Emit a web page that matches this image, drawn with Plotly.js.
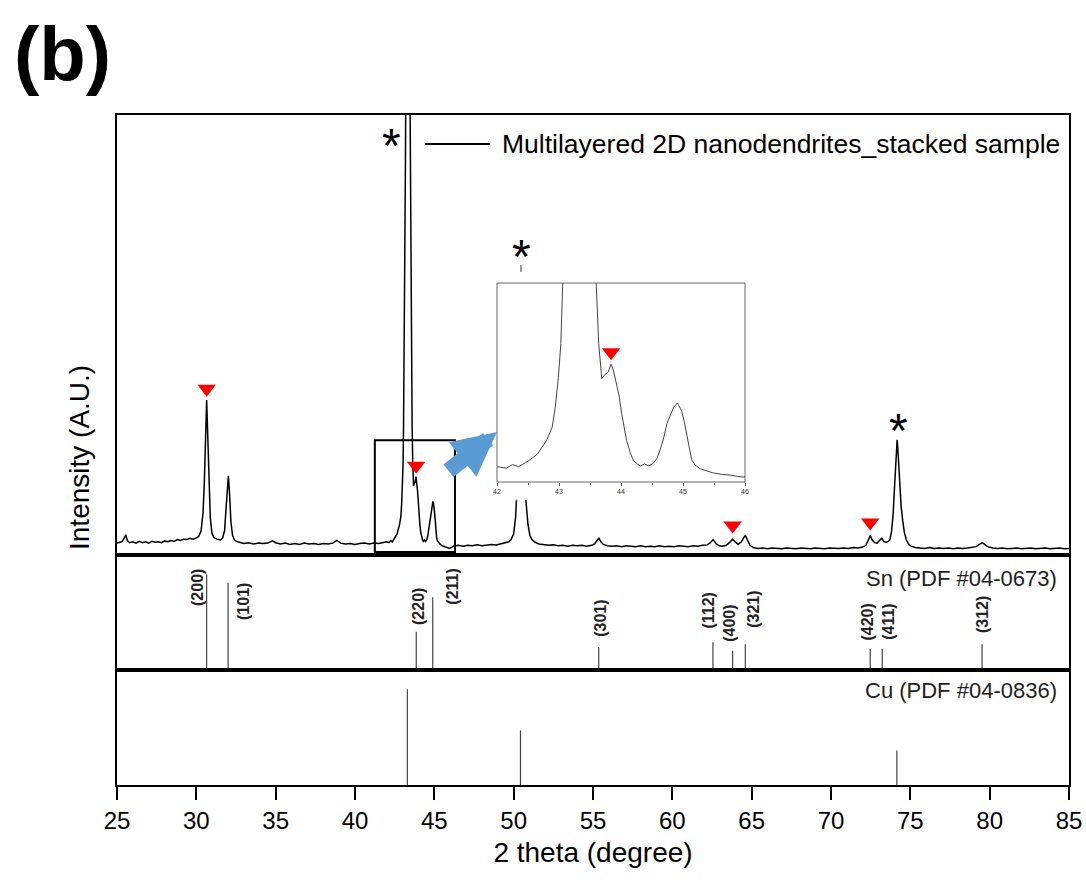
<!DOCTYPE html>
<html>
<head>
<meta charset="utf-8">
<script src="https://cdn.plot.ly/plotly-3.0.1.min.js"></script>
<style>html,body{margin:0;padding:0;background:#fff;}#chart{width:1086px;height:882px;}</style>
</head>
<body>
<div id="chart"></div>
<script>
// ---------- Data ----------
const seriesName = "Multilayered 2D nanodendrites_stacked sample";
const twoTheta = [25.0,25.15,25.3,25.45,25.55,25.65,25.8,26.0,26.2,26.4,26.6,26.8,27.0,27.2,27.4,27.6,27.8,28.0,28.2,28.4,28.6,28.8,29.0,29.2,29.4,29.6,29.8,30.0,30.15,30.3,30.42,30.5,30.57,30.65,30.72,30.8,30.88,30.98,31.1,31.3,31.5,31.65,31.78,31.88,31.96,32.02,32.1,32.18,32.28,32.4,32.6,32.8,33.0,33.3,33.6,33.9,34.2,34.5,34.8,35.0,35.3,35.6,35.9,36.2,36.5,36.8,37.1,37.4,37.7,38.0,38.3,38.6,38.85,39.1,39.4,39.7,40.0,40.3,40.6,40.9,41.2,41.5,41.8,42.0,42.15,42.25,42.35,42.5,42.65,42.8,42.89,42.94,42.99,43.03,43.06,43.12,43.18,43.22,43.27,43.33,43.39,43.44,43.48,43.54,43.6,43.64,43.69,43.74,43.79,43.84,43.88,43.93,43.97,44.01,44.05,44.09,44.15,44.2,44.26,44.31,44.38,44.45,44.52,44.58,44.63,44.69,44.74,44.8,44.85,44.91,44.95,44.98,45.02,45.06,45.1,45.14,45.2,45.28,45.38,45.49,45.62,45.76,45.88,45.97,46.2,46.5,46.8,47.1,47.4,47.7,48.0,48.3,48.6,48.9,49.2,49.5,49.7,49.85,50.0,50.12,50.22,50.32,50.45,50.57,50.67,50.78,50.9,51.02,51.15,51.35,51.6,51.9,52.2,52.5,52.8,53.1,53.4,53.7,54.0,54.3,54.6,54.9,55.1,55.25,55.37,55.5,55.65,55.9,56.2,56.5,56.8,57.1,57.4,57.7,58.0,58.3,58.6,58.9,59.2,59.5,59.8,60.1,60.4,60.7,61.0,61.3,61.6,61.9,62.2,62.4,62.57,62.75,62.95,63.15,63.4,63.6,63.8,63.95,64.15,64.35,64.5,64.6,64.72,64.9,65.1,65.4,65.7,66.0,66.3,66.6,66.9,67.2,67.5,67.8,68.1,68.4,68.7,69.0,69.3,69.6,69.9,70.2,70.5,70.8,71.1,71.4,71.7,72.0,72.2,72.35,72.47,72.6,72.75,72.9,73.05,73.2,73.35,73.5,73.62,73.72,73.82,73.92,74.02,74.1,74.17,74.24,74.32,74.42,74.52,74.62,74.75,74.9,75.05,75.3,75.6,75.9,76.2,76.5,76.8,77.1,77.4,77.7,78.0,78.3,78.6,78.9,79.15,79.35,79.55,79.75,79.95,80.2,80.5,80.8,81.1,81.4,81.7,82.0,82.3,82.6,82.9,83.2,83.5,83.8,84.1,84.4,84.7,85.0];
const intensity = [27,29,30,38,46,33,28,30,27,31,28,30,27,31,29,30,28,32,30,33,31,35,33,36,35,38,36,39,42,55,95,160,260,352,270,160,85,50,40,36,34,38,55,110,165,180,135,75,45,34,30,28,26,28,25,27,26,27,32,28,25,27,24,26,24,27,25,26,24,26,25,27,33,27,25,26,24,26,27,25,27,26,28,30,28,33,30,38,48,68,87,116,159,208,295,520,900,1200,1650,1900,1650,1200,900,520,295,208,157,163,166,178,168,150,132,107,86,68,50,39,34,31,34,31,35,42,54,72,92,106,116,122,116,110,95,78,58,40,32,27,24,21,19,18,16,15,20,22,20,22,21,23,21,22,24,23,25,27,30,36,48,85,160,290,400,320,210,120,70,45,35,29,25,23,22,23,21,22,20,22,21,22,20,22,25,33,38,30,24,21,20,21,19,21,20,19,21,19,20,19,21,19,20,19,21,20,19,21,20,22,23,28,35,26,21,20,22,28,36,30,24,30,40,45,35,22,17,15,16,14,16,15,14,16,15,14,16,15,14,16,15,14,16,15,15,16,15,17,16,18,22,34,44,34,28,27,33,38,30,29,31,36,55,95,165,230,262,225,165,110,78,52,34,24,20,17,16,15,17,15,16,15,16,14,16,15,16,17,19,24,28,22,18,16,15,16,14,15,16,14,15,16,14,15,16,14,15,16,14,15];

// marked Sn peaks (red triangles) in the main pattern and in the inset
const snMarkX = [30.65, 43.85, 63.8, 72.47];
const snMarkY = [378, 203, 67, 74];
const insetMarkX = [43.84];
const insetMarkY = [195];

// Sn reference (PDF #04-0673)
const snPos = [30.65, 32.0, 43.86, 44.9, 55.36, 62.56, 63.8, 64.6, 72.47, 73.23, 79.52];
const snRel = [100, 91, 40, 76, 24, 29, 20, 27, 22, 22, 27];
const snHkl = ["(200)","(101)","(220)","(211)","(301)","(112)","(400)","(321)","(420)","(411)","(312)"];
// Cu reference (PDF #04-0836)
const cuPos = [43.3, 50.43, 74.15];
const cuRel = [100, 57, 36];

const xTicks = [25,30,35,40,45,50,55,60,65,70,75,80,85];
const insetTicks = [42,43,44,45,46];

// ---------- helpers ----------
const L = 117, R = 1069, T = 115, B = 785;
const px = v => (v - L) / (R - L);
const py = v => (B - v) / (B - T);
function sticks(xs, hs) {
  const X = [], Y = [];
  xs.forEach((x, i) => { X.push(x, x, null); Y.push(0, hs[i], null); });
  return {X, Y};
}
const sn = sticks(snPos, snRel);
const cu = sticks(cuPos, cuRel);

const FONT = 'Arial, "Liberation Sans", sans-serif';

const traces = [
  {x: twoTheta, y: intensity, type: 'scatter', mode: 'lines', name: seriesName,
   line: {color: '#000', width: 1.5}, xaxis: 'x', yaxis: 'y', showlegend: false, hoverinfo: 'skip'},
  {x: snMarkX, y: snMarkY, type: 'scatter', mode: 'markers', xaxis: 'x', yaxis: 'y',
   marker: {symbol: 'triangle-down', size: 16, color: '#ff0000'}, showlegend: false, hoverinfo: 'skip'},
  {x: sn.X, y: sn.Y, type: 'scatter', mode: 'lines', xaxis: 'x2', yaxis: 'y2',
   line: {color: '#444', width: 1.2}, showlegend: false, hoverinfo: 'skip'},
  {x: cu.X, y: cu.Y, type: 'scatter', mode: 'lines', xaxis: 'x3', yaxis: 'y3',
   line: {color: '#444', width: 1.2}, showlegend: false, hoverinfo: 'skip'},
  {x: twoTheta, y: intensity, type: 'scatter', mode: 'lines', xaxis: 'x4', yaxis: 'y4',
   line: {color: '#444', width: 1}, showlegend: false, hoverinfo: 'skip'},
  {x: insetMarkX, y: insetMarkY, type: 'scatter', mode: 'markers', xaxis: 'x4', yaxis: 'y4',
   marker: {symbol: 'triangle-down', size: 16, color: '#ff0000'}, showlegend: false, hoverinfo: 'skip'}
];

const frameAxis = {showline: true, mirror: true, linecolor: '#000', linewidth: 2,
  showgrid: false, zeroline: false, ticks: '', showticklabels: false, fixedrange: true};

const snLabelX = [30.04, 32.94, 43.97, 46.09, 55.43, 62.22, 63.56, 65.07, 72.24, 73.58, 79.52];
const snLabelYpx = [587, 601, 606, 587, 618, 611, 623, 609, 622, 622, 615];

function ann(o) { return Object.assign({xanchor: 'center', yanchor: 'middle', showarrow: false,
  xref: 'paper', yref: 'paper'}, o); }

const annotations = [
  ann({text: '<b>(b)</b>', x: px(62), y: py(53), font: {family: FONT, size: 76, color: '#000'}}),
  ann({text: 'Intensity (A.U.)', x: px(79), y: py(458), textangle: -90,
       font: {family: FONT, size: 28, color: '#000'}}),
  ann({text: seriesName, x: px(500), y: py(144), xanchor: 'left',
       font: {family: FONT, size: 26.5, color: '#000'}}),
  ann({text: 'Sn (PDF #04-0673)', x: px(1059), y: py(578), xanchor: 'right',
       font: {family: FONT, size: 22, color: '#222'}}),
  ann({text: 'Cu (PDF #04-0836)', x: px(1059), y: py(690), xanchor: 'right',
       font: {family: FONT, size: 22, color: '#222'}}),
  ann({text: '*', x: px(391), y: py(145), font: {family: FONT, size: 48, color: '#000'}}),
  ann({text: '*', x: px(521), y: py(256), font: {family: FONT, size: 48, color: '#000'}}),
  ann({text: '*', x: px(898), y: py(430), font: {family: FONT, size: 48, color: '#000'}}),
  {text: '', xref: 'paper', yref: 'paper', x: px(497), y: py(432), ax: -50, ay: 40,
   showarrow: true, arrowhead: 2, arrowsize: 0.55, arrowwidth: 16, arrowcolor: '#5b9bd5', standoff: 0}
];
snHkl.forEach((t, i) => {
  annotations.push(ann({text: '<b>' + t + '</b>', xref: 'x2', x: snLabelX[i], y: py(snLabelYpx[i]),
    textangle: -90, font: {family: FONT, size: 16, color: '#222'}}));
});

const shapes = [
  // zoom box around 42-46 deg in main pattern
  {type: 'rect', xref: 'x', yref: 'y', x0: 41.25, x1: 46.3, y0: 7, y1: 261,
   line: {color: '#000', width: 2}, fillcolor: 'rgba(0,0,0,0)', layer: 'above'},
  // inset frame
  {type: 'rect', xref: 'paper', yref: 'paper', x0: px(497), x1: px(745), y0: py(482), y1: py(283),
   line: {color: '#666', width: 1}, fillcolor: 'rgba(0,0,0,0)', layer: 'above'},
  // legend sample line
  {type: 'line', xref: 'paper', yref: 'paper', x0: px(425), x1: px(490), y0: py(144), y1: py(144),
   line: {color: '#000', width: 2}},
  // small mark under inset asterisk
  {type: 'line', xref: 'paper', yref: 'paper', x0: px(521), x1: px(521), y0: py(265), y1: py(272),
   line: {color: '#333', width: 1}}
];

const layout = {
  width: 1086, height: 882,
  margin: {l: L, r: 1086 - R, t: T, b: 882 - B, pad: 0},
  paper_bgcolor: '#fff', plot_bgcolor: '#fff',
  font: {family: FONT, color: '#000'},
  showlegend: false,
  xaxis: Object.assign({}, frameAxis, {domain: [0, 1], range: [25, 85], anchor: 'y'}),
  yaxis: Object.assign({}, frameAxis, {domain: [py(555), 1], range: [0, 1000], anchor: 'x'}),
  xaxis2: Object.assign({}, frameAxis, {domain: [0, 1], range: [25, 85], anchor: 'y2'}),
  yaxis2: Object.assign({}, frameAxis, {domain: [py(670), py(555)], range: [0, 120], anchor: 'x2'}),
  xaxis3: Object.assign({}, frameAxis, {domain: [0, 1], range: [25, 85], anchor: 'y3',
    ticks: 'outside', ticklen: 13, tickwidth: 2, tickcolor: '#000', showticklabels: true,
    tickmode: 'array', tickvals: xTicks, ticktext: xTicks.map(String),
    tickfont: {family: FONT, size: 24, color: '#000'},
    title: {text: '2 theta (degree)', font: {family: FONT, size: 28, color: '#000'}, standoff: 10},
    automargin: false}),
  yaxis3: Object.assign({}, frameAxis, {domain: [0, py(670)], range: [0, 120], anchor: 'x3'}),
  xaxis4: {domain: [px(497), px(745)], range: [42, 46], anchor: 'free', position: py(482),
    showline: false, showgrid: false, zeroline: false, ticks: 'outside', ticklen: 3, tickwidth: 1,
    tickcolor: '#555', tickmode: 'array', tickvals: insetTicks, ticktext: insetTicks.map(String),
    tickfont: {family: FONT, size: 7, color: '#333'},
    minor: {tickvals: [42.5, 43.5, 44.5, 45.5], ticks: 'outside', ticklen: 2, tickcolor: '#555'},
    fixedrange: true},
  yaxis4: {domain: [py(500), py(283)], range: [-18, 295], anchor: 'x4', showline: false,
    showgrid: false, zeroline: false, ticks: '', showticklabels: false, fixedrange: true},
  annotations: annotations,
  shapes: shapes
};

Plotly.newPlot('chart', traces, layout, {staticPlot: true, displayModeBar: false});
</script>
</body>
</html>
